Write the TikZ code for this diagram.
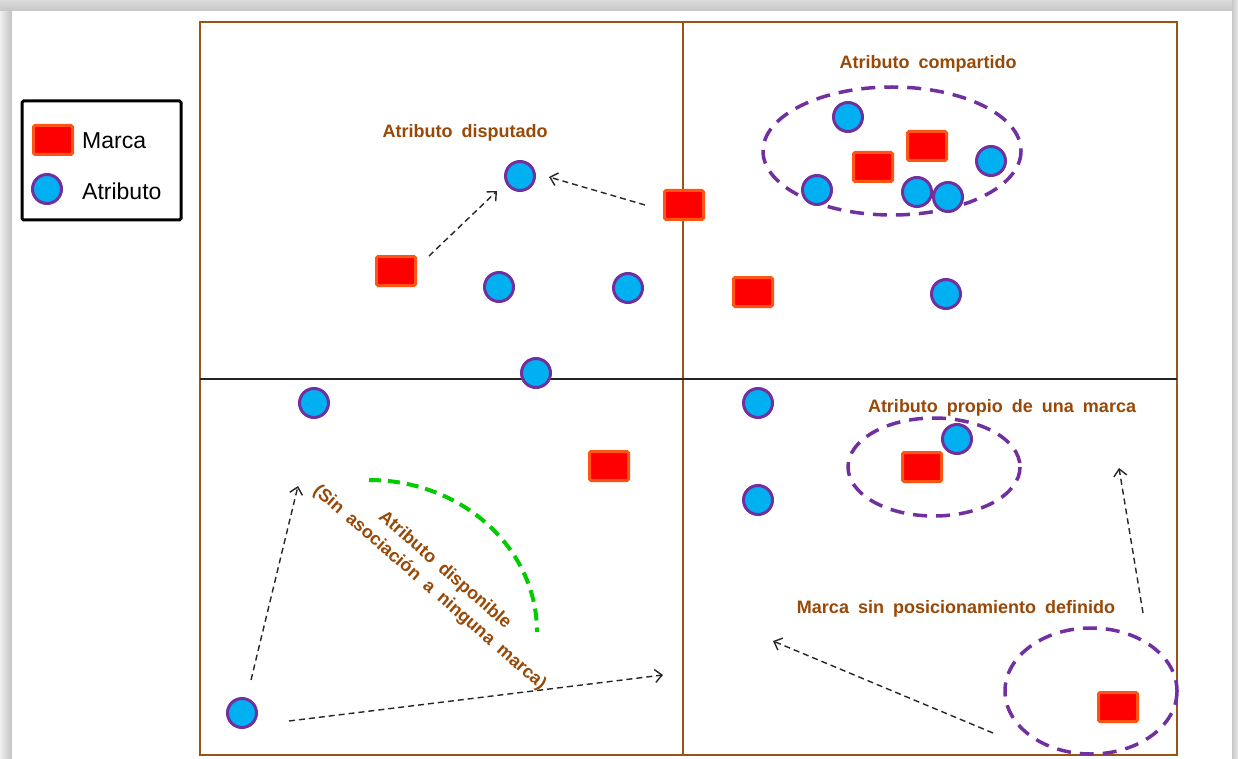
\documentclass[tikz,border=0pt]{standalone}
\usepackage{fontspec}
\setmainfont{Liberation Sans}
\newfontfamily\lblfont[WordSpace=1.8]{Liberation Sans}
\usetikzlibrary{arrows.meta}

\definecolor{lblbrown}{HTML}{984807}
\definecolor{framebrown}{HTML}{9C5416}
\definecolor{markred}{HTML}{FF0000}
\definecolor{markedge}{HTML}{FF5414}
\definecolor{attrblue}{HTML}{00B0F0}
\definecolor{attrpurple}{HTML}{7030A0}
\definecolor{arcgreen}{HTML}{00CC00}

\tikzset{
  marca/.style={draw=markedge, fill=markred, line width=3pt,
    minimum width=39pt, minimum height=29pt, inner sep=0pt, rounded corners=1.5pt},
  atributo/.style={circle, draw=attrpurple, fill=attrblue, line width=3pt,
    minimum size=29pt, inner sep=0pt},
  grupo/.style={draw=attrpurple, line width=3.5pt, dash pattern=on 14pt off 9pt},
  flecha/.style={draw=black!85, line width=1.4pt, dash pattern=on 6pt off 4pt,
    -{Straight Barb[length=7pt,width=13pt,line width=1.4pt]}},
  etiqueta/.style={text=lblbrown, font=\lblfont\bfseries\fontsize{18}{22}\selectfont,
    inner sep=0pt},
  leyenda/.style={font=\fontsize{23}{27}\selectfont, anchor=west, inner sep=0pt}
}

\begin{document}
\begin{tikzpicture}[x=1pt, y=-1pt]
\useasboundingbox (0,0) rectangle (1238,759);

% soft page edge
\fill[gray!32] (0,0) rectangle (1238,759);
\shade[left color=gray!12, right color=gray!48] (0,0) rectangle (12,759);
\shade[top color=gray!28, bottom color=gray!45] (0,0) rectangle (1238,11);
\shade[left color=gray!42, right color=gray!18] (1232,0) rectangle (1238,759);
\fill[white] (12,11) rectangle (1232,759);

% quadrant frame and axes
\draw[framebrown, line width=1.6pt] (200,22) rectangle (1177,755);
\draw[framebrown, line width=1.6pt] (683,22) -- (683,755);
\draw[black!85, line width=1.6pt] (200,379) -- (1177,379);

% legend
\draw[black, line width=3pt, rounded corners=1.5pt] (22,101) rectangle (181,220);
\node[marca] (lm) at (53,140) {};
\node[atributo] (la) at (47,189) {};
\node[leyenda] (lmt) at (82,141) {Marca};
\node[leyenda] (lat) at (82,191) {Atributo};

% groups
\draw[grupo] (892,151) ellipse [x radius=129, y radius=64];
\draw[grupo] (934,467) ellipse [x radius=86, y radius=49];
\draw[grupo] (1091,691) ellipse [x radius=86, y radius=63];
\draw[arcgreen, line width=4pt, dash pattern=on 12pt off 7pt]
  (369,480) arc [start angle=-90, end angle=0, x radius=168, y radius=152];

% brands
\node[marca] (m1) at (684,205) {};
\node[marca] (m2) at (753,292) {};
\node[marca] (m3) at (396,271) {};
\node[marca] (m4) at (609,466) {};
\node[marca] (m5) at (873,167) {};
\node[marca] (m6) at (927,146) {};
\node[marca] (m7) at (922,467) {};
\node[marca] (m8) at (1118,707) {};

% attributes
\node[atributo] (a1) at (520,176) {};
\node[atributo] (a2) at (499,287) {};
\node[atributo] (a3) at (628,288) {};
\node[atributo] (a4) at (536,373) {};
\node[atributo] (a5) at (314,403) {};
\node[atributo] (a6) at (242,713) {};
\node[atributo] (a7) at (758,403) {};
\node[atributo] (a8) at (758,500) {};
\node[atributo] (a9) at (848,117) {};
\node[atributo] (a10) at (817,190) {};
\node[atributo] (a11) at (917,192) {};
\node[atributo] (a12) at (948,197) {};
\node[atributo] (a13) at (991,161) {};
\node[atributo] (a14) at (946,294) {};
\node[atributo] (a15) at (957,439) {};

% arrow ends
\coordinate (s1) at (429,256); \coordinate (t1) at (497,191);
\coordinate (s2) at (645,205); \coordinate (t2) at (549,177);
\coordinate (s3) at (251,680); \coordinate (t3) at (298,486);
\coordinate (s4) at (289,721); \coordinate (t4) at (663,675);
\coordinate (s5) at (993,733); \coordinate (t5) at (773,641);
\coordinate (s6) at (1143,613); \coordinate (t6) at (1119,468);
\draw[flecha] (s1) -- (t1);
\draw[flecha] (s2) -- (t2);
\draw[flecha] (s3) -- (t3);
\draw[flecha] (s4) -- (t4);
\draw[flecha] (s5) -- (t5);
\draw[flecha] (s6) -- (t6);

% labels
\node[etiqueta] (l1) at (465,133) {Atributo disputado};
\node[etiqueta] (l2) at (928,64) {Atributo compartido};
\node[etiqueta] (l3) at (1002,408) {Atributo propio de una marca};
\node[etiqueta] (l4) at (956,609) {Marca sin posicionamiento definido};
\node[etiqueta, align=center, rotate=-41] (l5) at (437,579)
  {Atributo disponible\\[1pt](Sin asociación a ninguna marca)};
\end{tikzpicture}
\end{document}
